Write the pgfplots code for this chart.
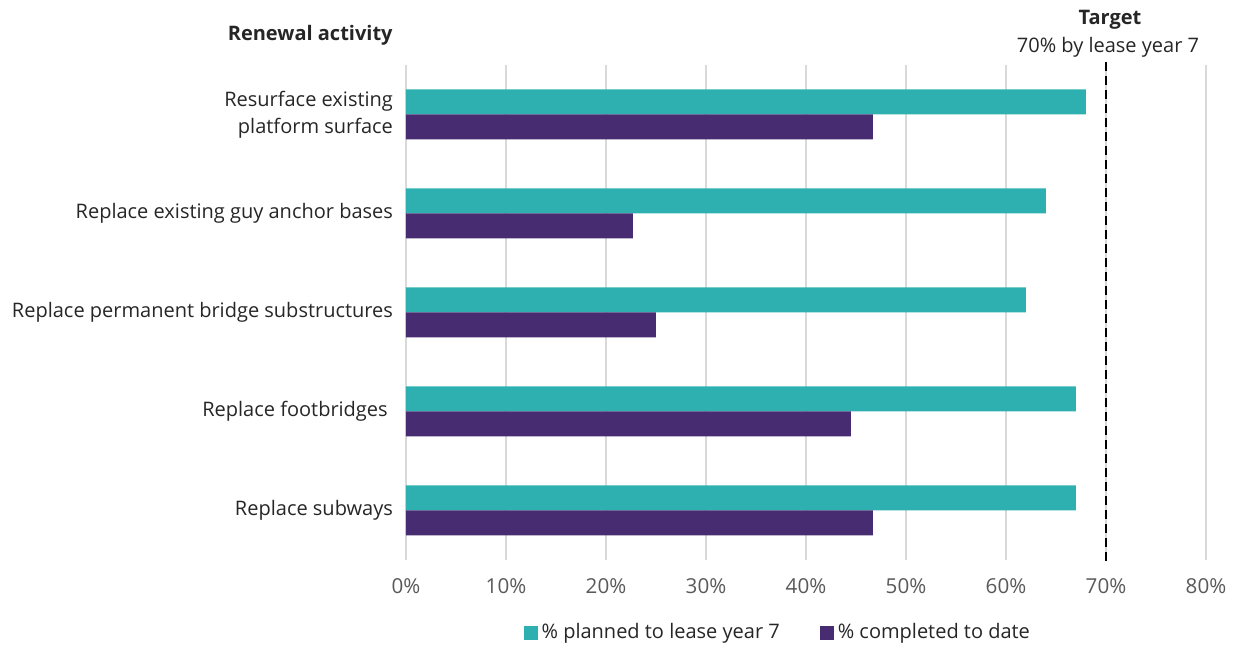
\documentclass[border=0pt]{standalone}
\usepackage{pgfplots}
\pgfplotsset{compat=1.18}
\usepackage{fontspec}
\setmainfont{Open Sans}
\definecolor{teal1}{HTML}{2EB0B1}
\definecolor{purp}{HTML}{472C72}
\definecolor{gridc}{HTML}{D9D9D9}
\definecolor{tickc}{HTML}{595959}
\definecolor{txt}{HTML}{262626}
\begin{document}
\begin{tikzpicture}[x=1pt,y=1pt]
\begin{axis}[
 at={(0,0)}, anchor=south west,
 scale only axis, width=400pt, height=247.5pt,
 xbar, bar width=12.5pt,
 xmin=0, xmax=80, ymin=-0.5, ymax=4.5, y dir=reverse,
 clip=false,
 xtick={0,10,...,80},
 xticklabels={0\%,10\%,20\%,30\%,40\%,50\%,60\%,70\%,80\%},
 ytick={0,1,2,3,4},
 yticklabels={{Resurface existing\\platform surface\ },{Replace existing guy anchor bases},{Replace permanent bridge substructures},{Replace footbridges\ },{Replace subways}},
 xmajorgrids, major grid style={gridc, line width=0.75pt},
 axis line style={draw=none},
 major tick length=0pt, tick style={draw=none},
 xticklabel style={font=\fontsize{10.3}{12}\selectfont, text=tickc, yshift=-6pt},
 yticklabel style={font=\fontsize{10}{13.5}\selectfont, text=txt, align=right, xshift=-3pt},
 legend style={at={(axis description cs:0.466,-0.147)}, anchor=center, draw=none,
   font=\fontsize{10}{12}\selectfont, text=txt,
   /tikz/every even column/.append style={column sep=18pt}},
 legend columns=2,
 legend image code/.code={\fill[#1] (0pt,-3.5pt) rectangle (7pt,3.5pt);},
]
\addplot[fill=teal1, draw=none, bar shift=6.25pt] coordinates {(68,0) (64,1) (62,2) (67,3) (67,4)};
\addplot[fill=purp, draw=none, bar shift=-6.25pt] coordinates {(46.7,0) (22.7,1) (25,2) (44.5,3) (46.7,4)};
\legend{\% planned to lease year 7,\% completed to date}
\draw[black, line width=1.2pt, dash pattern=on 4.5pt off 2.5pt] (axis cs:70,-0.53) -- (axis cs:70,4.55);
\end{axis}
\node[font=\fontsize{10}{12}\selectfont\bfseries, text=txt] at (352pt,270pt) {Target};
\node[font=\fontsize{10}{12}\selectfont, text=txt] at (351pt,256.5pt) {70\% by lease year 7};
\node[font=\fontsize{10}{12}\selectfont\bfseries, text=txt, anchor=east, inner sep=0pt] at (-6.5pt,262.5pt) {Renewal activity};
\pgfresetboundingbox
\path[use as bounding box] (-203pt,-45.5pt) rectangle (416.5pt,280pt);
\end{tikzpicture}
\end{document}
